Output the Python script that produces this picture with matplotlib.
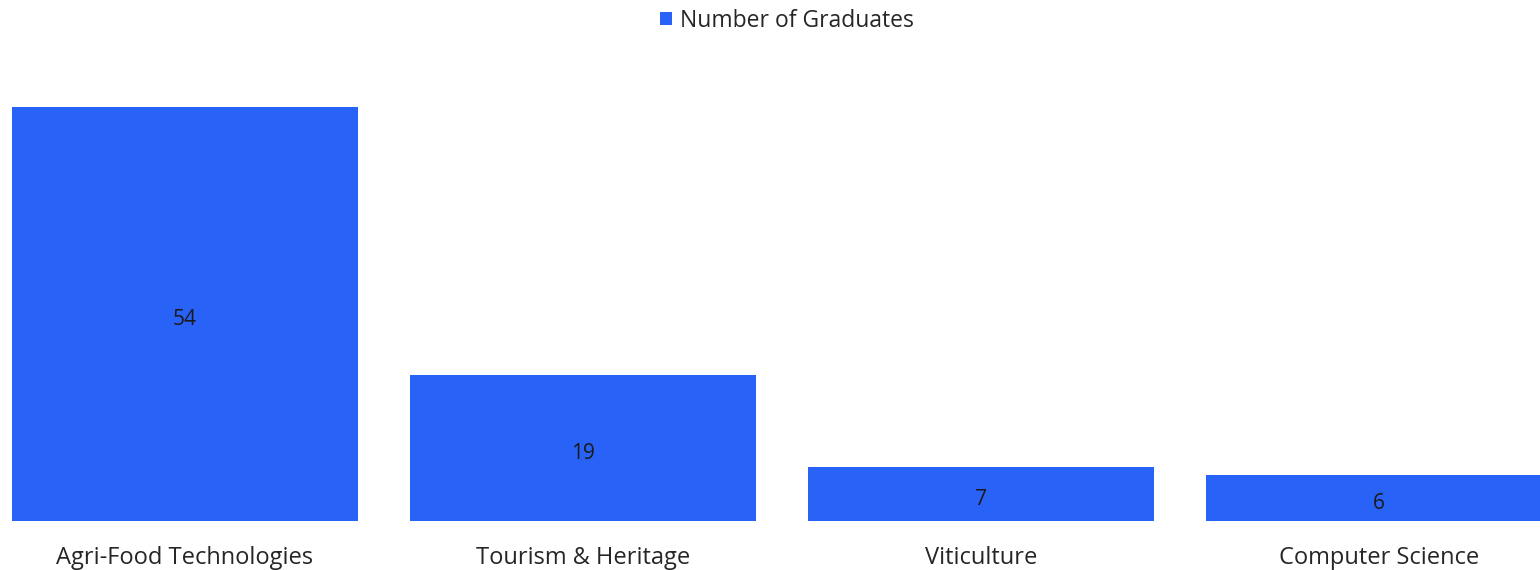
import numpy as np
import matplotlib.pyplot as plt

plt.rcParams['font.family'] = ['Open Sans', 'DejaVu Sans']

programmes = ['Agri-Food Technologies', 'Tourism & Heritage', 'Viticulture', 'Computer Science']
graduates = [54, 19, 7, 6]

bar_color = '#2962F6'

fig = plt.figure(figsize=(15.4, 5.7), dpi=100)
ax = fig.add_axes([0, 0.086, 1, 0.807])

x = np.arange(len(programmes))
bars = ax.bar(x, graduates, width=0.869, color=bar_color, label='Number of Graduates')

# value labels in the middle of each bar (a touch below centre, like the original)
for b, v in zip(bars, graduates):
    ax.annotate(str(v), (b.get_x() + b.get_width() / 2, v / 2),
                xytext=(0, -4), textcoords='offset points',
                ha='center', va='center', fontsize=15, color='#1a1a1a')

ax.set_xlim(-0.4648, 3.4045)
ax.set_ylim(0, 60)
ax.set_xticks(x)
ax.set_xticklabels(programmes, fontsize=17, color='#262626')
ax.tick_params(axis='x', length=0, pad=18)
ax.set_yticks([])
for s in ax.spines.values():
    s.set_visible(False)

fig.legend(loc='upper center', bbox_to_anchor=(0.511, 1.021), frameon=False,
           fontsize=16.5, handlelength=0.5, handleheight=0.5, handletextpad=0.35,
           labelcolor='#262626')

fig.savefig('out.png', dpi=100)
